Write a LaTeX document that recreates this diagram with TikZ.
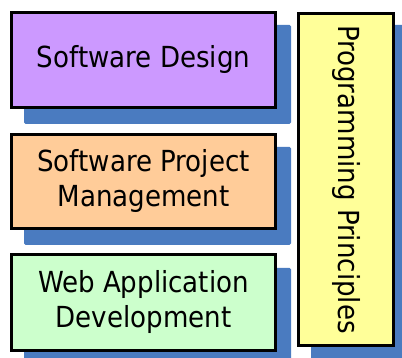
\documentclass[tikz,border=0pt]{standalone}
\usepackage{fontspec}
\setmainfont{DejaVu Sans Condensed}
\usetikzlibrary{backgrounds}
\definecolor{shadowc}{RGB}{74,123,192}
\definecolor{purplec}{HTML}{CC99FF}
\definecolor{orangec}{HTML}{FFCC99}
\definecolor{greenc}{HTML}{CCFFCC}
\definecolor{yellowc}{HTML}{FFFF99}
\tikzset{
  x=1pt, y=1pt,
  box/.style={draw=black, line width=3pt, align=center, inner sep=0pt,
    font=\fontsize{29}{35}\selectfont, text=black},
  hbox/.style={box, minimum width=264pt},
  shade/.style={fill=shadowc, rounded corners=1.5pt}
}
\begin{document}
\begin{tikzpicture}
\useasboundingbox (0,0) rectangle (402,358);
\clip (0,0) rectangle (402,358);
\node[hbox, fill=purplec, minimum height=95pt] (sd) at (143.5,298) {Software Design};
\node[hbox, fill=orangec, minimum height=94pt] (spm) at (143.5,176.5) {Software Project\\Management};
\node[hbox, fill=greenc, minimum height=96pt] (wad) at (143.5,55.5) {Web Application\\Development};
\node[box, fill=yellowc, minimum width=95pt, minimum height=332pt] (pp) at (346,178.5) {};
\node[font=\fontsize{29}{35}\selectfont, rotate=-90, inner sep=0pt] (ppt) at (pp.center) {Programming Principles};
\begin{scope}[on background layer]
  \fill[shade] ([shift={(14,-14)}]sd.north west) rectangle ([shift={(14,-15)}]sd.south east);
  \fill[shade] ([shift={(14,-14)}]spm.north west) rectangle ([shift={(14,-15)}]spm.south east);
  \fill[shade] ([shift={(14,-15)}]wad.north west) rectangle ([shift={(14,-20)}]wad.south east);
  \fill[shade] ([shift={(14,-13)}]pp.north west) rectangle ([shift={(20,-20)}]pp.south east);
\end{scope}
\end{tikzpicture}
\end{document}
